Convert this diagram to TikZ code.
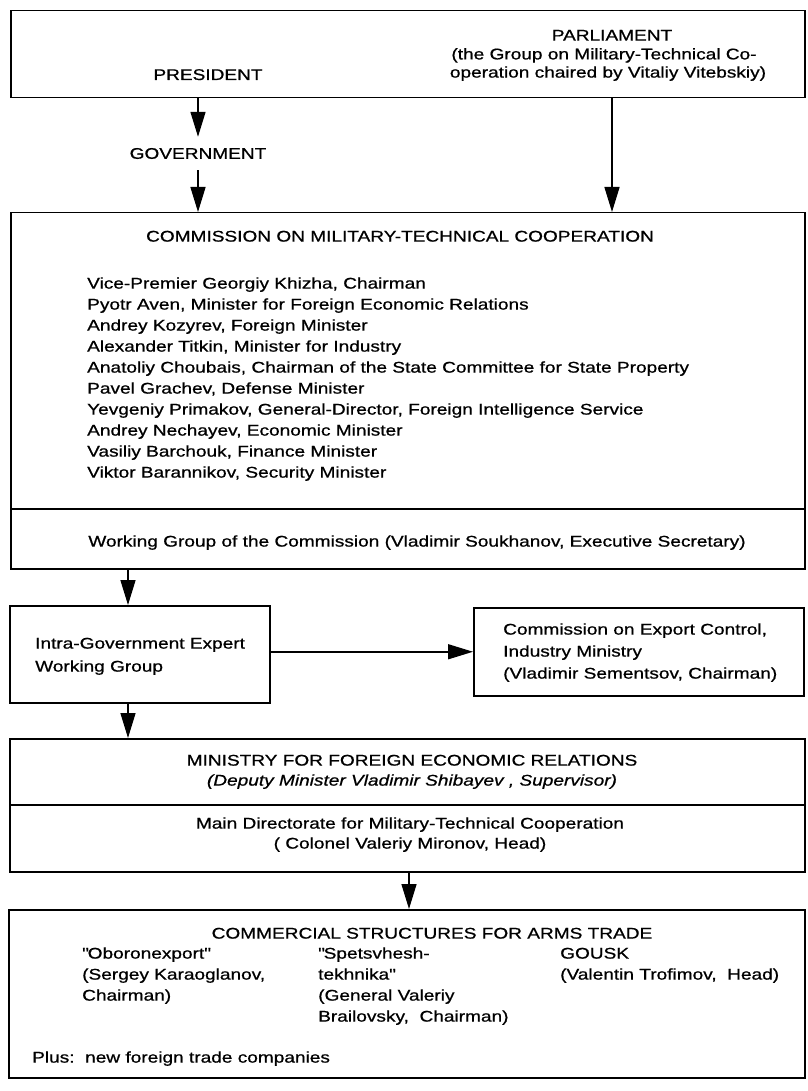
\documentclass[tikz,border=0pt]{standalone}
\usepackage{fontspec}
\setmainfont{Liberation Sans}[FakeStretch=1.23, FakeBold=0.8]
\usetikzlibrary{arrows.meta}
\tikzset{
  box/.style={draw, line width=1.5pt, inner sep=0pt, anchor=north west},
  arr/.style={line width=1.5pt, -{Triangle[length=25pt,width=15pt]}},
  txt/.style={inner sep=0pt, font=\fontsize{15.5}{17.8}\selectfont},
  ltxt/.style={txt, anchor=base west},
  ctxt/.style={txt, anchor=base},
}
\begin{document}
\begin{tikzpicture}[x=1pt,y=-1pt]
\useasboundingbox (0,0) rectangle (807,1091);
% boxes
\node[box, minimum width=794pt, minimum height=87pt] (top) at (10,10) {};
\node[box, minimum width=794pt, minimum height=356pt] (comm) at (10,212) {};
\node[box, minimum width=260pt, minimum height=97pt] (intra) at (9,605) {};
\node[box, minimum width=330pt, minimum height=88pt] (export) at (473,607) {};
\node[box, minimum width=795pt, minimum height=133pt] (mfer) at (9,738) {};
\node[box, minimum width=796pt, minimum height=168pt] (comst) at (8,909) {};
% dividers
\coordinate (d1) at (0,509);
\coordinate (d2) at (0,805);
\draw[line width=1.5pt] (comm.west |- d1) -- (comm.east |- d1);
\draw[line width=1.5pt] (mfer.west |- d2) -- (mfer.east |- d2);
% top texts
\node[ctxt] (pres) at (208,80) {PRESIDENT};
\node[ctxt] (parl1) at (612,40.6) {PARLIAMENT};
\node[ctxt] (parl2) at (604,59.4) {(the Group on Military-Technical Co-};
\node[ctxt] (parl3) at (608,77.6) {operation chaired by Vitaliy Vitebskiy)};
\node[txt, minimum height=33pt] (govt) at (198,153.5) {GOVERNMENT};
% commission
\node[ctxt] (ctitle) at (400,241.6) {COMMISSION ON MILITARY-TECHNICAL COOPERATION};
\foreach \t [count=\i from 0] in {
  {Vice-Premier Georgiy Khizha, Chairman},
  {Pyotr Aven, Minister for Foreign Economic Relations},
  {Andrey Kozyrev, Foreign Minister},
  {Alexander Titkin, Minister for Industry},
  {Anatoliy Choubais, Chairman of the State Committee for State Property},
  {Pavel Grachev, Defense Minister},
  {Yevgeniy Primakov, General-Director, Foreign Intelligence Service},
  {Andrey Nechayev, Economic Minister},
  {Vasiliy Barchouk, Finance Minister},
  {Viktor Barannikov, Security Minister}}
  \node[ltxt] (m\i) at (87,288.6+21*\i) {\t};
\node[ctxt] (wg) at (417,546.6) {Working Group of the Commission (Vladimir Soukhanov, Executive Secretary)};
% intra / export
\node[ltxt] (in1) at (35,648.6) {Intra-Government Expert};
\node[ltxt] (in2) at (35,671.6) {Working Group};
\node[ltxt] (ex1) at (503,634.6) {Commission on Export Control,};
\node[ltxt] (ex2) at (503,656.6) {Industry Ministry};
\node[ltxt] (ex3) at (503,678.6) {(Vladimir Sementsov, Chairman)};
% ministry
\node[ctxt] (mi1) at (412,765.6) {MINISTRY FOR FOREIGN ECONOMIC RELATIONS};
\node[ctxt] (mi2) at (412,785.6) {\itshape (Deputy Minister Vladimir Shibayev , Supervisor)};
\node[ctxt] (mi3) at (410,828.6) {Main Directorate for Military-Technical Cooperation};
\node[ctxt] (mi4) at (410,848.6) {( Colonel Valeriy Mironov, Head)};
% commercial
\node[ctxt] (cs) at (432,938.6) {COMMERCIAL STRUCTURES FOR ARMS TRADE};
\node[ltxt] (o1) at (82,958.6) {\textquotedbl Oboronexport\textquotedbl};
\node[ltxt] (o2) at (82,979.6) {(Sergey Karaoglanov,};
\node[ltxt] (o3) at (82,1000.6) {Chairman)};
\node[ltxt] (s1) at (318,958.6) {\textquotedbl Spetsvhesh-};
\node[ltxt] (s2) at (318,979.6) {tekhnika\textquotedbl};
\node[ltxt] (s3) at (318,1000.6) {(General Valeriy};
\node[ltxt] (s4) at (318,1021.6) {Brailovsky,\ \ Chairman)};
\node[ltxt] (g1) at (560,958.6) {GOUSK};
\node[ltxt] (g2) at (560,979.6) {(Valentin Trofimov,\ \ Head)};
\node[ltxt] (plus) at (32,1062.6) {Plus:\ \ new foreign trade companies};
% connectors
\coordinate (ax1) at (128,0);
\coordinate (ax2) at (409,0);
\draw[arr] (top.south -| govt) -- (govt.north);
\draw[arr] (govt.south) -- (comm.north -| govt);
\draw[arr] (top.south -| parl1) -- (comm.north -| parl1);
\draw[arr] (comm.south -| ax1) -- (intra.north -| ax1);
\draw[arr] (intra.east |- export.west) -- (export.west);
\draw[arr] (intra.south -| ax1) -- (mfer.north -| ax1);
\draw[arr] (mfer.south -| ax2) -- (comst.north -| ax2);
\end{tikzpicture}
\end{document}
